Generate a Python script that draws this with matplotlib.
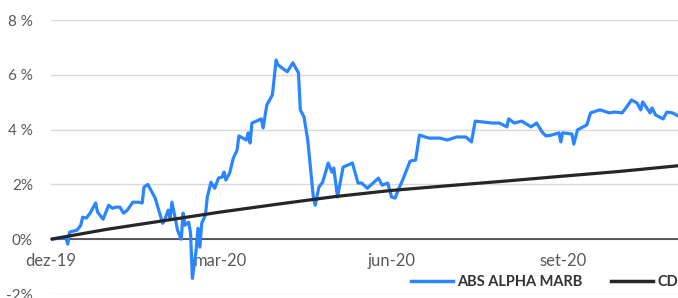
import matplotlib
matplotlib.use("Agg")
import matplotlib.pyplot as plt
import pandas as pd

# days since 2019-12-01 and cumulative return (%)
fund_days = [0, 5, 8, 9, 10, 14, 16, 17, 19, 21, 24, 25, 28, 31, 33, 35, 37, 39, 41, 44,
             47, 49, 50, 52, 56, 59, 60, 61, 63, 64, 65, 67, 68, 70, 71, 72, 74, 75, 76, 78,
             79, 80, 81, 83, 84, 86, 88, 90, 92, 93, 94, 96, 98, 100, 101, 105, 106, 107, 108, 113,
             114, 116, 119, 121, 122, 127, 130, 133, 134, 136, 138, 141, 142, 144, 146, 149, 151, 152, 154, 157,
             162, 165, 167, 170, 176, 178, 181, 183, 185, 187, 189, 193, 196, 198, 203, 209, 213, 218, 223, 226,
             228, 232, 237, 241, 245, 246, 249, 253, 258, 261, 264, 266, 269, 273, 274, 275, 280, 281, 283, 288,
             290, 295, 297, 300, 303, 307, 309, 312, 315, 317, 318, 322, 323, 325, 329, 331, 334, 337]
fund_vals = [0.00, 0.04, 0.05, -0.18, 0.26, 0.33, 0.51, 0.80, 0.77, 0.95, 1.32, 0.99, 0.73, 1.24, 1.13, 1.17, 1.17, 0.95, 1.06, 1.35,
             1.35, 1.32, 1.90, 2.00, 1.50, 0.80, 0.58, 0.69, 1.06, 0.77, 1.35, 0.69, 0.33, 0.00, 0.95, 0.51, 0.62, 0.22, -1.43, -0.40,
             0.40, -0.29, 0.58, 0.88, 1.54, 2.08, 1.86, 2.23, 2.27, 2.45, 2.16, 2.41, 2.96, 3.25, 3.77, 3.62, 3.88, 3.51, 4.24, 4.39,
             4.06, 4.90, 5.27, 6.54, 6.36, 6.11, 6.44, 6.07, 4.72, 4.46, 3.62, 1.54, 1.24, 1.90, 2.08, 2.78, 2.45, 2.60, 1.54, 2.63,
             2.78, 2.05, 2.05, 1.86, 2.23, 1.97, 2.05, 1.54, 1.50, 1.86, 2.16, 2.85, 2.89, 3.80, 3.69, 3.69, 3.62, 3.73, 3.73, 3.55,
             4.31, 4.28, 4.24, 4.24, 4.10, 4.39, 4.24, 4.31, 4.10, 4.24, 3.91, 3.77, 3.80, 3.88, 3.55, 3.88, 3.84, 3.47, 3.99, 4.17,
             4.61, 4.72, 4.68, 4.61, 4.64, 4.61, 4.79, 5.08, 4.97, 4.72, 5.01, 4.61, 4.79, 4.53, 4.39, 4.64, 4.61, 4.50]

cdi_days = [0, 30, 61, 91, 122, 152, 183, 213, 244, 275, 305, 337]
cdi_vals = [0.00, 0.36, 0.68, 0.99, 1.28, 1.55, 1.78, 1.95, 2.12, 2.30, 2.47, 2.68]

start = pd.Timestamp("2019-12-01")
fund_dates = start + pd.to_timedelta(fund_days, unit="D")
cdi_dates = start + pd.to_timedelta(cdi_days, unit="D")

tick_dates = pd.to_datetime(["2019-12-01", "2020-03-01", "2020-06-01", "2020-09-01"])
tick_labels = ["dez-19", "mar-20", "jun-20", "set-20"]
y_ticks = [-2, 0, 2, 4, 6, 8]
y_labels = ["-2%", "0%", "2%", "4 %", "6 %", "8 %"]

plt.rcParams["font.family"] = ["Lato", "DejaVu Sans"]

fig = plt.figure(figsize=(6.78, 2.98), dpi=100)
ax = fig.add_axes([51 / 678, 1 - 294 / 298, 1 - 51 / 678, (294 - 20) / 298])

ax.plot(fund_dates, fund_vals, color="#2a85ff", lw=2.3, label="ABS ALPHA MARB", zorder=3)
ax.plot(cdi_dates, cdi_vals, color="#262626", lw=2.3, label="CDI", zorder=4)

ax.set_ylim(-2, 8)
ax.set_xlim(start, start + pd.Timedelta(days=337))
ax.set_yticks(y_ticks)
ax.set_yticklabels(y_labels)
ax.set_xticks(tick_dates)
ax.set_xticklabels(tick_labels)

ax.grid(axis="y", color="#d9d9d9", lw=1)
ax.set_axisbelow(True)
for s in ["top", "right", "left"]:
    ax.spines[s].set_visible(False)
ax.spines["bottom"].set_position(("data", 0))
ax.spines["bottom"].set_color("#404040")
ax.spines["bottom"].set_linewidth(1.2)
ax.tick_params(axis="both", length=0, labelcolor="#595959")
ax.tick_params(axis="y", pad=13, labelsize=11)
ax.tick_params(axis="x", pad=10, labelsize=12)

# legend sits low inside the plot and runs off the right edge, as in the original
leg = ax.legend(loc="center left", bbox_to_anchor=(0.553, 0.045),
                ncol=2, frameon=False, handlelength=2.9, handletextpad=0.3, columnspacing=1.9,
                prop={"weight": "bold", "size": 10.5})
for t in leg.get_texts():
    t.set_color("#333333")
for h in leg.get_lines():
    h.set_linewidth(2.5)

fig.savefig("out.png", dpi=100)
